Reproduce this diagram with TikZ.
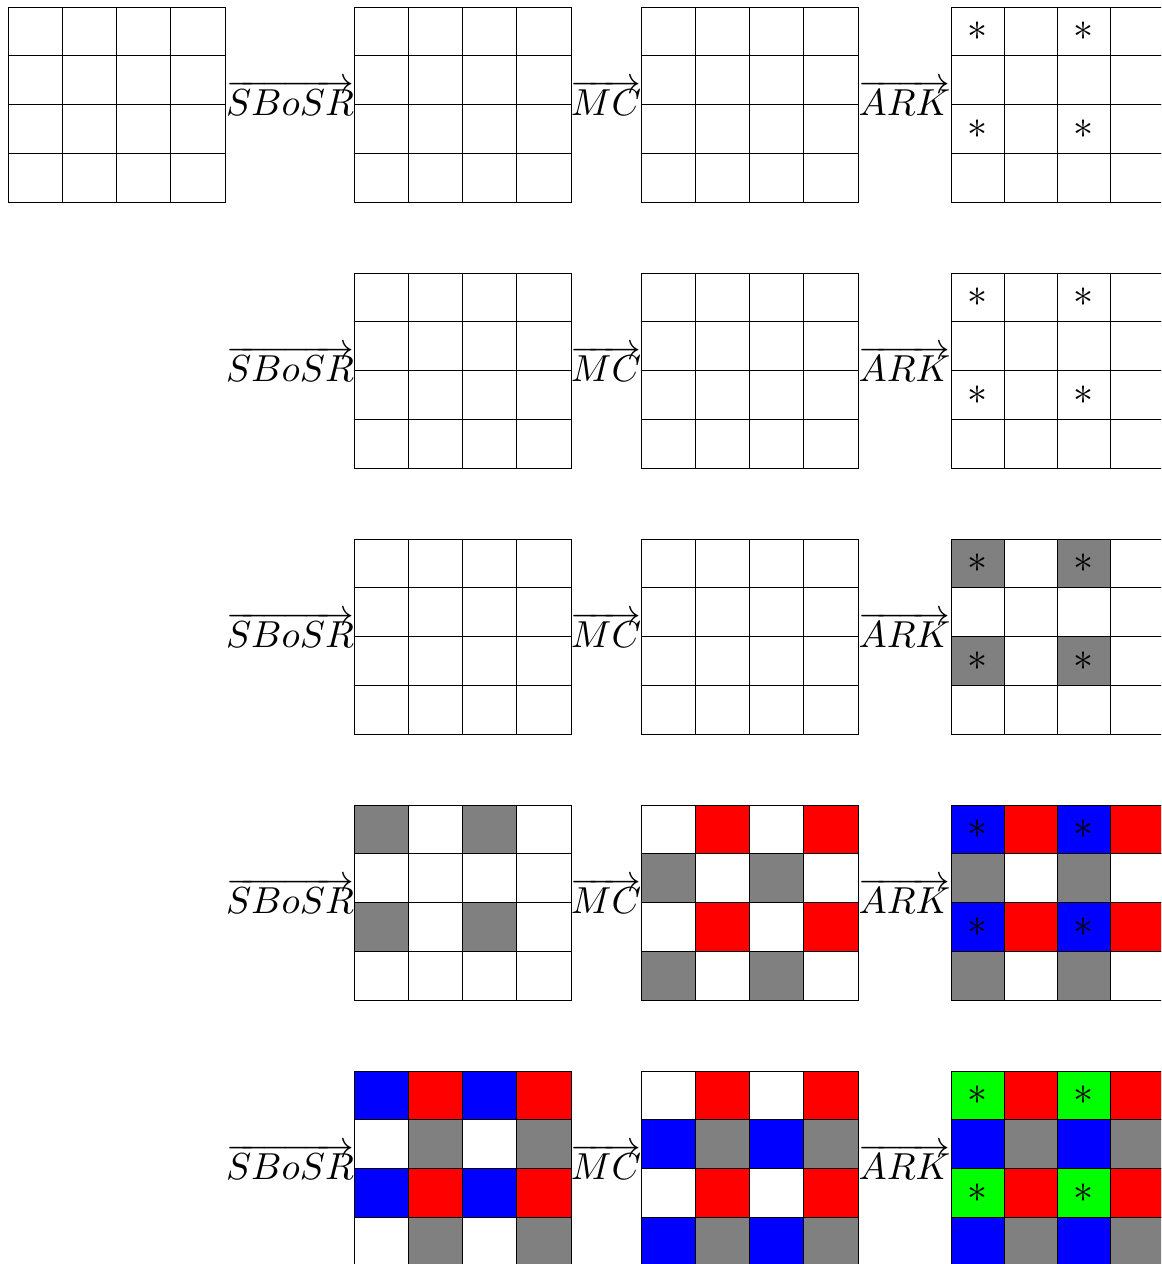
\documentclass[tikz,border=0pt]{standalone}
\begin{document}
\begin{tikzpicture}[x=0.25pt,y=-0.25pt,
  cell/.style={draw=black,line width=0.25pt,inner sep=0pt,minimum height=12.1875pt},
  lbl/.style={inner sep=0pt,anchor=base},
  startxt/.style={inner sep=0pt}]
\clip (0,0) rectangle (1161,1264);
% #1 name, #2 left x, #3 top y, #4 cell width (px), #5 macro holding 16 colours
\newcommand\mygrid[5]{%
  \foreach \c [count=\k from 0] in #5 {
    \pgfmathtruncatemacro\rr{floor(\k/4)}
    \pgfmathtruncatemacro\qq{mod(\k,4)}
    \node[cell,fill=\c,minimum width=#4*0.25pt] (#1-\rr-\qq)
      at ({#2+(\qq+0.5)*#4},{#3+(\rr+0.5)*48.75}) {};
  }%
}
\newcommand\mystars[1]{%
  \foreach \p in {0-0,0-2,2-0,2-2}
    \node[startxt] (#1-\p-s) at (#1-\p) {$*$};%
}
\newcommand\oparrow[1]{\scalebox{0.94}{$\overrightarrow{#1}$}}
\def\allw{white,white,white,white,white,white,white,white,white,white,white,white,white,white,white,white}
\def\gridG{gray,white,gray,white,white,white,white,white,gray,white,gray,white,white,white,white,white}
\def\gridRa{white,red,white,red,gray,white,gray,white,white,red,white,red,gray,white,gray,white}
\def\gridBa{blue,red,blue,red,gray,white,gray,white,blue,red,blue,red,gray,white,gray,white}
\def\gridBb{blue,red,blue,red,white,gray,white,gray,blue,red,blue,red,white,gray,white,gray}
\def\gridRb{white,red,white,red,blue,gray,blue,gray,white,red,white,red,blue,gray,blue,gray}
\def\gridN{green,red,green,red,blue,gray,blue,gray,green,red,green,red,blue,gray,blue,gray}
% row 1
\mygrid{a1}{8}{7}{54.25}{\allw}
\mygrid{b1}{354}{7}{54.25}{\allw}
\mygrid{c1}{641}{7}{54.25}{\allw}
\mygrid{d1}{951}{7}{53}{\allw}
\mystars{d1}
% row 2
\mygrid{b2}{354}{273}{54.25}{\allw}
\mygrid{c2}{641}{273}{54.25}{\allw}
\mygrid{d2}{951}{273}{53}{\allw}
\mystars{d2}
% row 3
\mygrid{b3}{354}{539}{54.25}{\allw}
\mygrid{c3}{641}{539}{54.25}{\allw}
\mygrid{d3}{951}{539}{53}{\gridG}
\mystars{d3}
% row 4
\mygrid{b4}{354}{805}{54.25}{\gridG}
\mygrid{c4}{641}{805}{54.25}{\gridRa}
\mygrid{d4}{951}{805}{53}{\gridBa}
\mystars{d4}
% row 5
\mygrid{b5}{354}{1071}{54.25}{\gridBb}
\mygrid{c5}{641}{1071}{54.25}{\gridRb}
\mygrid{d5}{951}{1071}{53}{\gridN}
\mystars{d5}
% labels
\foreach \t [count=\i] in {7,273,539,805,1071} {
  \node[lbl] (s\i) at (290,\t+108) {\oparrow{SBoSR}};
  \node[lbl] (m\i) at (606,\t+108) {\oparrow{MC}};
  \node[lbl] (k\i) at (904.5,\t+108) {\oparrow{ARK}};
}
\end{tikzpicture}
\end{document}
